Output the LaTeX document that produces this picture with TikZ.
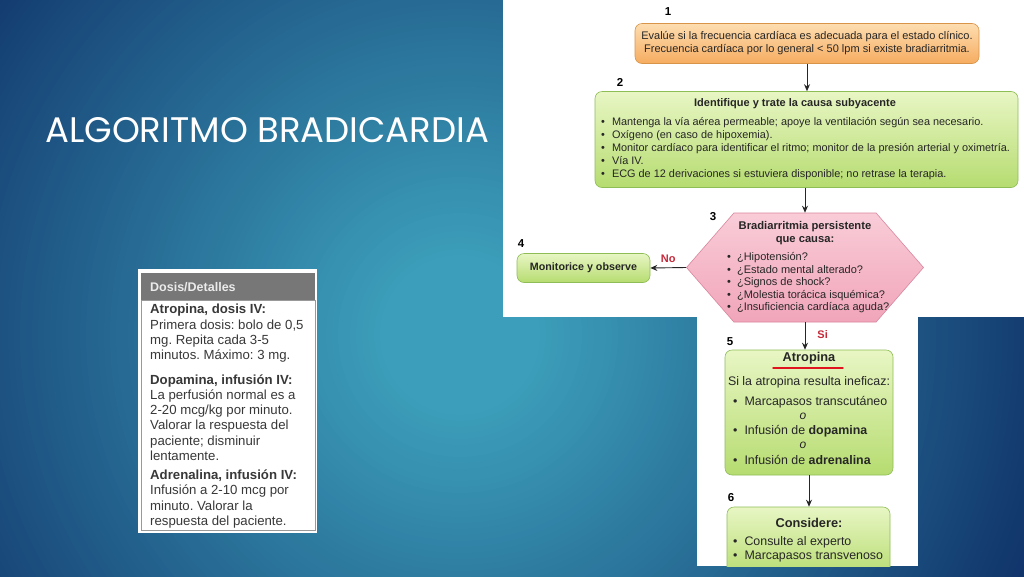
\documentclass[tikz,border=0pt]{standalone}
\usepackage{fontspec}
\setmainfont{Liberation Sans}
\newfontfamily\titlefont{Poppins}
\usetikzlibrary{shapes.symbols,arrows.meta}
\definecolor{bgouter}{HTML}{10336A}
\definecolor{bginner}{HTML}{3C9EBA}
\definecolor{orangetop}{HTML}{FDDDB0}
\definecolor{orangebot}{HTML}{F6AC60}
\definecolor{orangeline}{HTML}{D8954A}
\definecolor{greentop}{HTML}{E8F6C4}
\definecolor{greenbot}{HTML}{B6DC70}
\definecolor{greenline}{HTML}{8FBD55}
\definecolor{pinktop}{HTML}{F9CCD8}
\definecolor{pinkbot}{HTML}{F1A5BA}
\definecolor{pinkline}{HTML}{D9879E}
\definecolor{labelred}{HTML}{C42A3A}
\definecolor{underred}{HTML}{E0141E}
\definecolor{tablegray}{HTML}{777777}
\definecolor{tabletext}{HTML}{383838}
\frenchspacing
\begin{document}
\begin{tikzpicture}[x=1pt,y=-1pt,
  box/.style={draw, rounded corners=7pt, line width=0.6pt, inner sep=0pt},
  orangebox/.style={box, draw=orangeline, top color=orangetop, bottom color=orangebot},
  greenbox/.style={box, draw=greenline, top color=greentop, bottom color=greenbot},
  hexbox/.style={draw=pinkline, line width=0.6pt, top color=pinktop, bottom color=pinkbot,
    signal, signal to=east and west, signal pointer angle=98, inner sep=0pt},
  num/.style={font=\bfseries\fontsize{11.5}{11.5}\selectfont},
  ftext/.style={font=\fontsize{10.9}{13}\selectfont, text=black!85, inner sep=0pt},
  btext/.style={font=\fontsize{12.4}{14.5}\selectfont, text=black!85, inner sep=0pt},
  ttext/.style={font=\fontsize{13.2}{15.3}\selectfont, text=tabletext, inner sep=0pt, align=left, anchor=west},
  arrow/.style={-{Stealth[length=7pt,width=6pt]}, line width=0.9pt, draw=black!85},
  redlabel/.style={font=\bfseries\fontsize{11}{11}\selectfont, text=labelred, inner sep=0pt}
]
\useasboundingbox (0,0) rectangle (1024,576);
% background
\begin{scope}
\clip (0,0) rectangle (1024,576);
\fill[bgouter] (0,0) rectangle (1024,576);
\foreach \r in {620,614,...,20} {
  \pgfmathsetmacro\t{min(100,(620-\r)/5.4)}
  \fill[bginner!\t!bgouter] (460,335) circle (\r);
}
\end{scope}
% title
\node[anchor=west, inner sep=0pt, text=white, font=\titlefont\fontsize{35.5}{35.5}\selectfont] (title) at (45,130) {ALGORITMO BRADICARDIA};
% white panels
\fill[white] (503,0) rectangle (1024,317);
\fill[white] (697,317) rectangle (918,566);
% box 1
\node[num] (n1) at (668,12) {1};
\node[orangebox, minimum width=344, minimum height=40, ftext, font=\fontsize{11}{13}\selectfont, align=center] (box1) at (807,43.5)
  {Evalúe si la frecuencia cardíaca es adecuada para el estado clínico.\\Frecuencia cardíaca por lo general < 50 lpm si existe bradiarritmia.};
% box 2
\node[num] (n2) at (620,82) {2};
\node[greenbox, minimum width=423, minimum height=96] (box2) at (806.5,139.5) {};
\node[ftext, font=\bfseries\fontsize{11}{13}\selectfont] (t2) at (795,104) {Identifique y trate la causa subyacente};
\node[ftext, align=left, anchor=west] (b2) at (601,149)
  {•\hspace{7pt}Mantenga la vía aérea permeable; apoye la ventilación según sea necesario.\\
   •\hspace{7pt}Oxígeno (en caso de hipoxemia).\\
   •\hspace{7pt}Monitor cardíaco para identificar el ritmo; monitor de la presión arterial y oximetría.\\
   •\hspace{7pt}Vía IV.\\
   •\hspace{7pt}ECG de 12 derivaciones si estuviera disponible; no retrase la terapia.};
% box 3 (hexagon)
\node[num] (n3) at (713,217) {3};
\node[hexbox, minimum width=237, minimum height=109] (hex) at (805,267.5) {};
\node[ftext, font=\bfseries\fontsize{11.2}{13}\selectfont, align=center] (t3) at (805,233) {Bradiarritmia persistente\\que causa:};
\node[ftext, font=\fontsize{11}{12.5}\selectfont, align=left, anchor=west] (b3) at (727,283)
  {•\hspace{6pt}¿Hipotensión?\\
   •\hspace{6pt}¿Estado mental alterado?\\
   •\hspace{6pt}¿Signos de shock?\\
   •\hspace{6pt}¿Molestia torácica isquémica?\\
   •\hspace{6pt}¿Insuficiencia cardíaca aguda?};
% box 4
\node[num] (n4) at (521,244) {4};
\node[greenbox, minimum width=133, minimum height=29, ftext, font=\bfseries\fontsize{10.7}{13}\selectfont] (box4) at (583.5,268) {Monitorice y observe};
% box 5
\node[num] (n5) at (730,342) {5};
\node[greenbox, minimum width=168, minimum height=125] (box5) at (809,412.5) {};
\node[btext, font=\bfseries\fontsize{12.8}{14}\selectfont] (t5) at (809,358.5) {Atropina};
\draw[underred, line width=1.4pt, line cap=round] (773,368) -- (843,368);
\node[btext] (s5) at (809,382) {Si la atropina resulta ineficaz:};
\node[btext, anchor=west] (b5a) at (733,402) {•\hspace{7pt}Marcapasos transcutáneo};
\node[btext, font=\itshape\fontsize{12}{14}\selectfont] (o5a) at (803,416) {o};
\node[btext, anchor=west] (b5b) at (733,431) {•\hspace{7pt}Infusión de \textbf{dopamina}};
\node[btext, font=\itshape\fontsize{12}{14}\selectfont] (o5b) at (803,445) {o};
\node[btext, anchor=west] (b5c) at (733,460) {•\hspace{7pt}Infusión de \textbf{adrenalina}};
% box 6
\node[num] (n6) at (731,498) {6};
\begin{scope}
\clip (697,317) rectangle (918,566);
\node[greenbox, minimum width=163, minimum height=70] (box6) at (808.5,542) {};
\end{scope}
\node[btext, font=\bfseries\fontsize{12.8}{14}\selectfont] (t6) at (809,523) {Considere:};
\node[btext, anchor=west] (b6a) at (733,542) {•\hspace{7pt}Consulte al experto};
\node[btext, anchor=west] (b6b) at (733,557) {•\hspace{7pt}Marcapasos transvenoso};
% connectors
\draw[arrow] (box1.south) -- (box1.south |- box2.north);
\draw[arrow] (box2.south -| hex.north) -- (hex.north);
\draw[arrow] (hex.west) -- (box4.east) node[redlabel, midway, above=5pt] {No};
\draw[arrow] (hex.south) -- (hex.south |- box5.north) node[redlabel, pos=0.45, right=12pt] {Si};
\draw[arrow] (box5.south) -- (box5.south |- box6.north);
% table
\fill[white] (138,269) rectangle (317,533);
\node[fill=tablegray, minimum width=174, minimum height=27, inner sep=0pt] (thead) at (228,286.5) {};
\node[anchor=west, inner sep=0pt, text=white!92!black, font=\bfseries\fontsize{12.5}{12.5}\selectfont] (theadtext) at (150,287) {Dosis/Detalles};
\node[draw=black!40, line width=0.6pt, minimum width=174, minimum height=230, inner sep=0pt] (tbody) at (228,415) {};
\node[ttext] (ta) at (150,333.5) {\textbf{Atropina, dosis IV:}\\Primera dosis: bolo de 0,5\\mg. Repita cada 3-5\\minutos. Máximo: 3 mg.};
\node[ttext] (tb) at (150,417.5) {\textbf{Dopamina, infusión IV:}\\La perfusión normal es a\\2-20 mcg/kg por minuto.\\Valorar la respuesta del\\paciente; disminuir\\lentamente.};
\node[ttext] (tc) at (150,499) {\textbf{Adrenalina, infusión IV:}\\Infusión a 2-10 mcg por\\minuto. Valorar la\\respuesta del paciente.};
\end{tikzpicture}
\end{document}
